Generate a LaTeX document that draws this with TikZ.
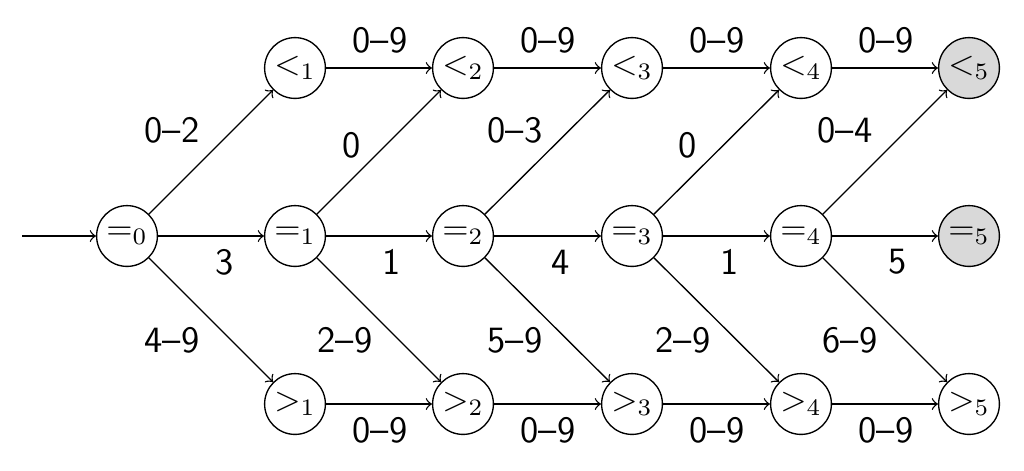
\documentclass[tikz,border=0pt]{standalone}
\usetikzlibrary{arrows}
\begin{document}
\begin{tikzpicture}[x=0.0104cm,y=-0.0104cm,
  st/.style={circle,draw,minimum size=18pt,inner sep=1pt},
  fin/.style={st,fill=gray!30},
  edge/.style={->,>=to},
  lab/.style={font=\fontsize{11}{13}\selectfont\sffamily,inner sep=0pt}]
\useasboundingbox (0,0) rectangle (1024,470);
\foreach \i/\x in {0/127,1/295,2/463,3/632,4/801}{
  \node[st] (e\i) at (\x,236) {$=_{\i}$};
}
\node[fin] (e5) at (969,236) {$=_{5}$};
\foreach \i/\x in {1/295,2/463,3/632,4/801}{
  \node[st] (l\i) at (\x,68) {$<_{\i}$};
  \node[st] (g\i) at (\x,404) {$>_{\i}$};
}
\node[fin] (l5) at (969,68) {$<_{5}$};
\node[st] (g5) at (969,404) {$>_{5}$};
\coordinate (start) at (22,236);
\draw[edge] (start) -- (e0);
% top and bottom rows
\foreach \a/\b/\x in {1/2/380,2/3/548,3/4/717,4/5/886}{
  \draw[edge] (l\a) -- (l\b);
  \draw[edge] (g\a) -- (g\b);
  \node[lab] (lt\a) at (\x,40) {0--9};
  \node[lab] (lb\a) at (\x,430) {0--9};
}
% middle row and diagonals
\foreach \a/\b in {0/1,1/2,2/3,3/4,4/5}{
  \draw[edge] (e\a) -- (e\b);
  \draw[edge] (e\a) -- (l\b);
  \draw[edge] (e\a) -- (g\b);
}
\node[lab] (m0) at (225,262) {3};
\node[lab] (m1) at (392,262) {1};
\node[lab] (m2) at (561,262) {4};
\node[lab] (m3) at (730,262) {1};
\node[lab] (m4) at (898,262) {5};
\node[lab] (u0) at (172,130) {0--2};
\node[lab] (u1) at (352,145) {0};
\node[lab] (u2) at (515,130) {0--3};
\node[lab] (u3) at (688,145) {0};
\node[lab] (u4) at (845,130) {0--4};
\node[lab] (d0) at (172,340) {4--9};
\node[lab] (d1) at (345,340) {2--9};
\node[lab] (d2) at (515,340) {5--9};
\node[lab] (d3) at (683,340) {2--9};
\node[lab] (d4) at (850,340) {6--9};
\end{tikzpicture}
\end{document}
